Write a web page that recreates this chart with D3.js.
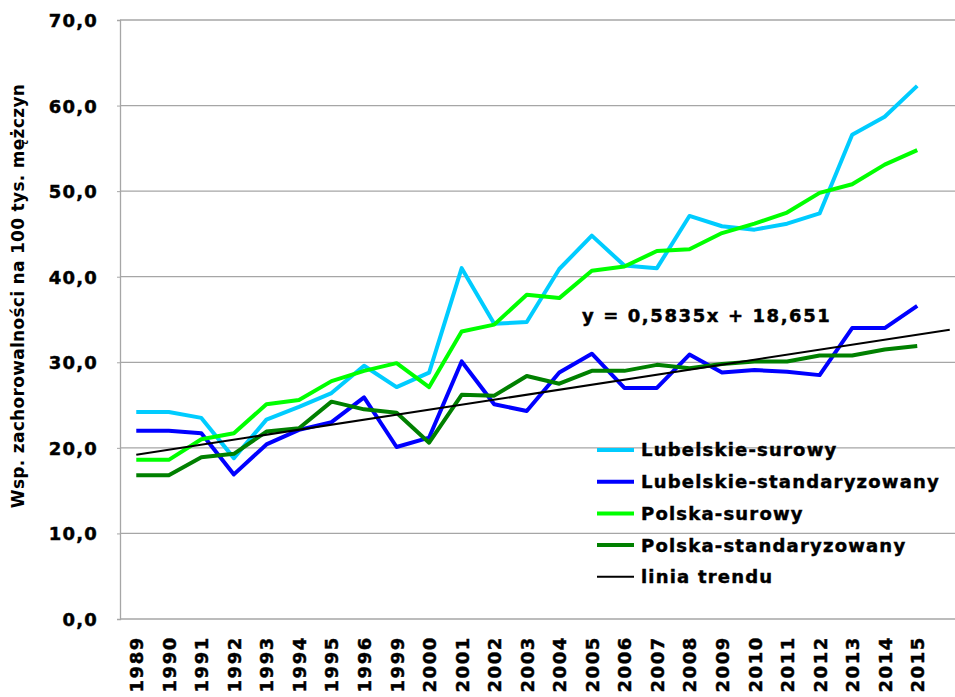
<!DOCTYPE html>
<html>
<head>
<meta charset="utf-8">
<script src="https://cdn.jsdelivr.net/npm/d3@7"></script>
<style>
  body { margin: 0; background: #fff; }
  svg text { font-family: "DejaVu Sans", Verdana, sans-serif; font-weight: bold; fill: #000; }
  svg text.heavy { stroke: #000; stroke-width: 0.45px; }
</style>
</head>
<body>
<div id="chart"></div>
<script>
var years = ["1989", "1990", "1991", "1992", "1993", "1994", "1995", "1996", "1999", "2000",
    "2001", "2002", "2003", "2004", "2005", "2006", "2007", "2008", "2009", "2010",
    "2011", "2012", "2013", "2014", "2015"];
var lubSurowy = [24.2, 24.2, 23.5, 18.8, 23.3, 24.8, 26.4, 29.6, 27.1, 28.8,
    41.0, 34.5, 34.7, 40.9, 44.8, 41.3, 41.0, 47.1, 45.9, 45.5, 46.2, 47.4, 56.6, 58.7, 62.3];
var lubStd = [22.0, 22.0, 21.7, 16.9, 20.4, 22.1, 23.0, 25.9, 20.1, 21.2,
    30.1, 25.1, 24.3, 28.8, 31.0, 27.0, 27.0, 30.9, 28.8, 29.1, 28.9, 28.5, 34.0, 34.0, 36.6];
var polSurowy = [18.6, 18.6, 21.0, 21.7, 25.1, 25.6, 27.8, 29.0, 29.9, 27.1,
    33.6, 34.4, 37.9, 37.5, 40.7, 41.2, 43.0, 43.2, 45.1, 46.2, 47.5, 49.8, 50.8, 53.1, 54.8];
var polStd = [16.8, 16.8, 18.9, 19.3, 21.9, 22.3, 25.4, 24.5, 24.1, 20.6,
    26.2, 26.1, 28.4, 27.5, 29.0, 29.0, 29.7, 29.3, 29.8, 30.1, 30.1, 30.8, 30.8, 31.5, 31.9];
// trend line: from the first category to one period past the last
var trendX = [1, 26];
var trendY = [19.2, 33.8];
var trendLabel = "y = 0,5835x + 18,651";
var yTicks = [0, 10, 20, 30, 40, 50, 60, 70];
var seriesNames = ["Lubelskie-surowy", "Lubelskie-standaryzowany", "Polska-surowy", "Polska-standaryzowany", "linia trendu"];
var seriesColors = ["#00ccff", "#0000ff", "#00ff00", "#008000", "#000000"];

var width = 955, height = 697;
var plotLeft = 120, plotTop = 20, plotBottom = 619;

var svg = d3.select("#chart").append("svg")
    .attr("width", width)
    .attr("height", height);

// one extra slot on the right for the forward trend period
var x = d3.scaleLinear().domain([0.5, years.length + 1.5]).range([plotLeft, plotLeft + 26 * 32.54]);
var y = d3.scaleLinear().domain([0, 70]).range([plotBottom, plotTop]);

// gridlines
svg.append("g").selectAll("line")
    .data(yTicks.slice(1))
    .enter().append("line")
    .attr("x1", plotLeft).attr("x2", width)
    .attr("y1", function(d) { return y(d); })
    .attr("y2", function(d) { return y(d); })
    .attr("stroke", "#a6a6a6")
    .attr("stroke-width", 1.3);

var yAxis = svg.append("g")
    .attr("transform", "translate(" + plotLeft + ",0)")
    .call(d3.axisLeft(y).tickValues(yTicks).tickSize(3).tickPadding(19)
        .tickFormat(function(d) { return d.toFixed(1).replace(".", ","); }));
yAxis.select(".domain").attr("stroke", "#a6a6a6").attr("stroke-width", 1.3);
yAxis.selectAll(".tick line").attr("stroke", "#a6a6a6");
yAxis.selectAll("text").attr("class", "heavy").attr("font-size", 18).attr("letter-spacing", 1.2).attr("dy", "0.36em");

var xAxis = svg.append("g")
    .attr("transform", "translate(0," + plotBottom + ")")
    .call(d3.axisBottom(x).tickValues(d3.range(1, years.length + 1)).tickSize(0)
        .tickFormat(function(d) { return years[d - 1]; }));
xAxis.select(".domain").attr("d", "M" + plotLeft + ",0H" + width).attr("stroke", "#a6a6a6").attr("stroke-width", 1.3);
xAxis.selectAll("text")
    .attr("class", "heavy")
    .attr("font-size", 18)
    .attr("letter-spacing", 1.6)
    .attr("transform", "rotate(-90)")
    .attr("text-anchor", "end")
    .attr("x", -17)
    .attr("y", 0)
    .attr("dy", "0.36em");

// axis title
svg.append("text")
    .attr("transform", "translate(24,296) rotate(-90)")
    .attr("text-anchor", "middle")
    .attr("font-size", 17)
    .attr("letter-spacing", 0.3)
    .text("Wsp. zachorowalności na 100 tys. mężczyn");

var line = d3.line()
    .x(function(d, i) { return x(i + 1); })
    .y(function(d) { return y(d); });

[lubSurowy, lubStd, polSurowy, polStd].forEach(function(s, k) {
    svg.append("path")
        .attr("d", line(s))
        .attr("fill", "none")
        .attr("stroke", seriesColors[k])
        .attr("stroke-width", 4)
        .attr("stroke-linejoin", "round");
});

svg.append("line")
    .attr("x1", x(trendX[0])).attr("y1", y(trendY[0]))
    .attr("x2", x(trendX[1])).attr("y2", y(trendY[1]))
    .attr("stroke", "#000")
    .attr("stroke-width", 2);

svg.append("text")
    .attr("class", "heavy")
    .attr("x", 582)
    .attr("y", 322)
    .attr("font-size", 18)
    .attr("letter-spacing", 1.6)
    .text(trendLabel);

// legend
var legend = svg.append("g").selectAll("g")
    .data(seriesNames)
    .enter().append("g")
    .attr("transform", function(d, i) { return "translate(597," + (450 + i * 31.7) + ")"; });
legend.append("line")
    .attr("x1", 0).attr("x2", 37)
    .attr("stroke", function(d, i) { return seriesColors[i]; })
    .attr("stroke-width", function(d, i) { return i < 4 ? 4 : 2; });
legend.append("text")
    .attr("class", "heavy")
    .attr("x", 44)
    .attr("dy", "0.36em")
    .attr("font-size", 18)
    .attr("letter-spacing", 1.2)
    .text(function(d) { return d; });
</script>
</body>
</html>
